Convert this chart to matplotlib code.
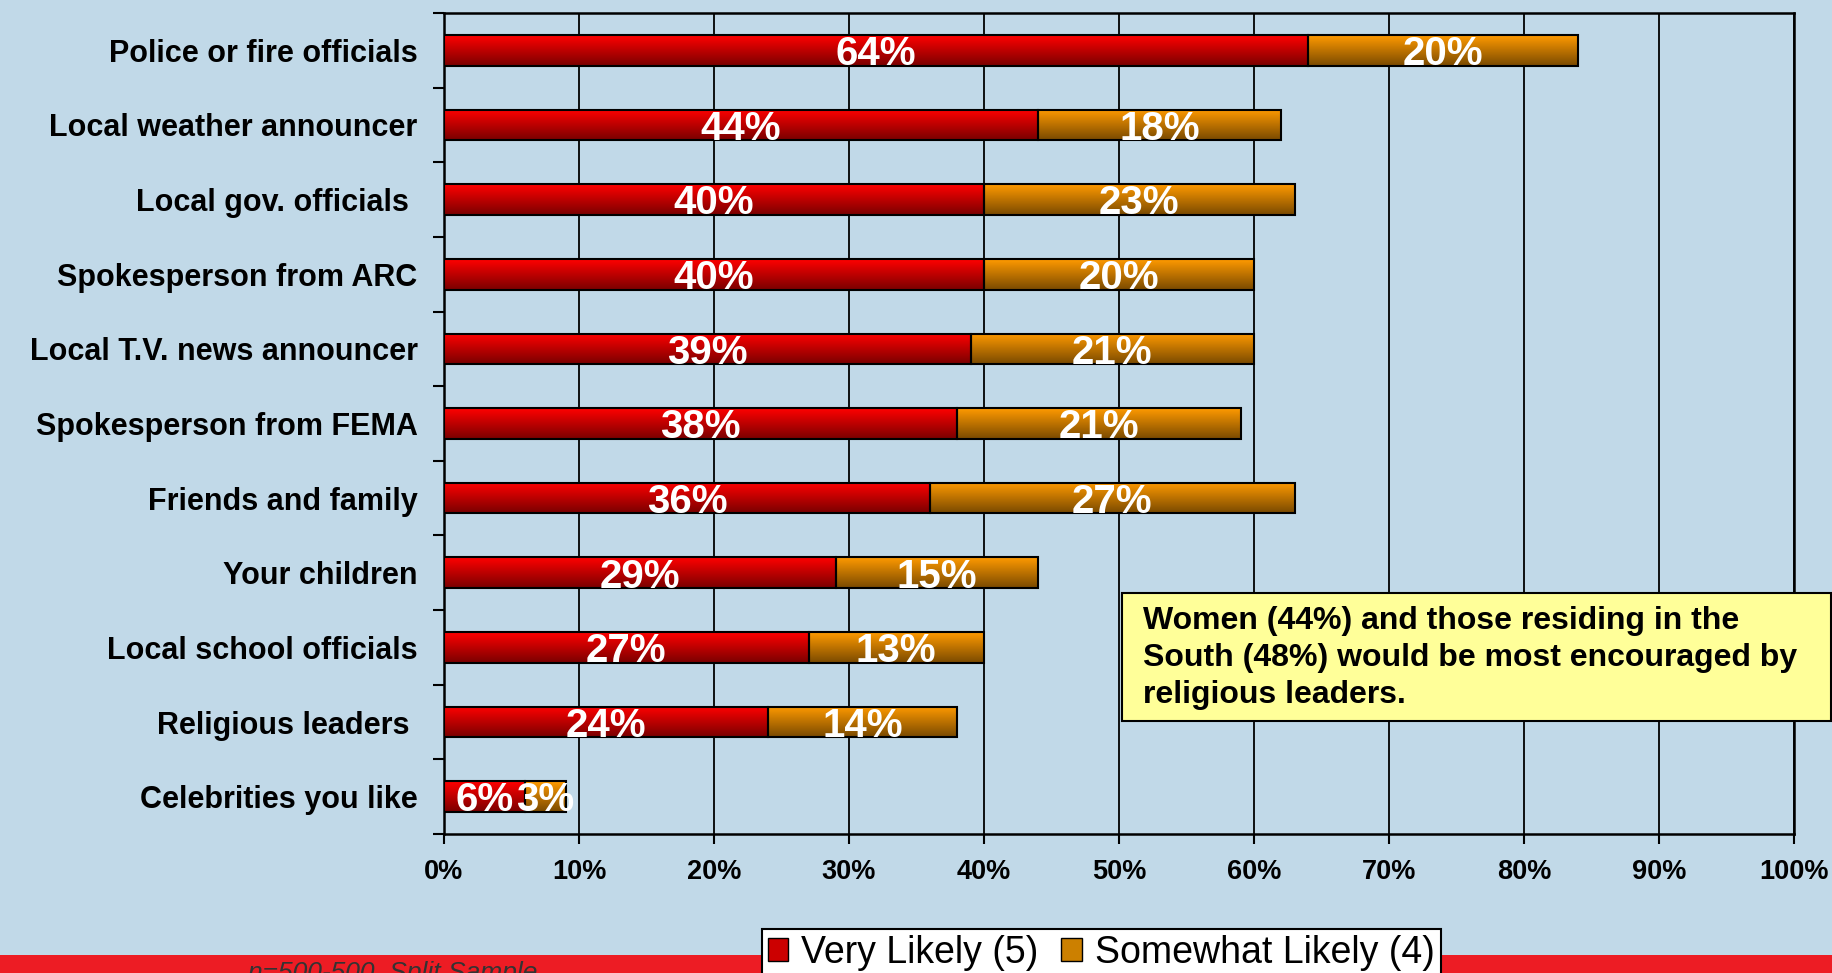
import numpy as np
import matplotlib
matplotlib.use("Agg")
import matplotlib.pyplot as plt
from matplotlib.patches import Rectangle, Patch
from matplotlib.colors import to_rgb

categories = ["Police or fire officials", "Local weather announcer", "Local gov. officials ",
              "Spokesperson from ARC", "Local T.V. news announcer", "Spokesperson from FEMA",
              "Friends and family", "Your children", "Local school officials",
              "Religious leaders ", "Celebrities you like"]
very_likely = [64, 44, 40, 40, 39, 38, 36, 29, 27, 24, 6]
somewhat_likely = [20, 18, 23, 20, 21, 21, 27, 15, 13, 14, 3]
series_names = ["Very Likely (5)", "Somewhat Likely (4)"]
xticks = [0, 10, 20, 30, 40, 50, 60, 70, 80, 90, 100]
note = "Women (44%) and those residing in the\nSouth (48%) would be most encouraged by\nreligious leaders."
footer = "n=500-500, Split Sample"

plt.rcParams['font.family'] = ['Liberation Sans', 'DejaVu Sans']

BG = '#C1D9E8'
W, H = 1833, 973
fig = plt.figure(figsize=(W / 100, H / 100), dpi=100, facecolor=BG)
ax = fig.add_axes([444 / W, 1 - 834 / H, (1794 - 444) / W, (834 - 13) / H])
ax.set_facecolor(BG)

n = len(categories)
y = np.arange(n)
bh = 0.41

grad_specs = [('#FF0000', '#7A0000'), ('#FF9A00', '#7A4A00')]

def grad_img(top, bot):
    t = np.array(to_rgb(top)); b = np.array(to_rgb(bot))
    s = np.linspace(0, 1, 64)[:, None]
    return (t * (1 - s) + b * s)[:, None, :]

lefts = [np.zeros(n), np.array(very_likely, dtype=float)]
vals = [np.array(very_likely, dtype=float), np.array(somewhat_likely, dtype=float)]
for k in range(2):
    bars = ax.barh(y, vals[k], left=lefts[k], height=bh, facecolor='none',
                   edgecolor='black', linewidth=1.5, zorder=4)
    img = grad_img(*grad_specs[k])
    for p in bars.patches:
        x0, y0 = p.get_x(), p.get_y()
        w, h = p.get_width(), p.get_height()
        im = ax.imshow(img, extent=(x0, x0 + w, y0 + h, y0), aspect='auto',
                       origin='upper', zorder=3, interpolation='bilinear')
        clip = Rectangle((x0, y0), w, h, transform=ax.transData)
        im.set_clip_path(clip)
    for yi, l, v in zip(y, lefts[k], vals[k]):
        ax.text(l + v / 2, yi + 0.05, f"{int(v)}%", ha='center', va='center',
                color='white', fontsize=29, fontweight='bold', zorder=6)

ax.set_xlim(0, 100)
ax.set_ylim(n - 0.5, -0.5)

ax.set_xticks(xticks)
ax.set_xticklabels([f"{t}%" for t in xticks], fontsize=19.5, fontweight='bold')
ax.tick_params(axis='x', direction='out', length=7, width=1.5, pad=11)
ax.grid(axis='x', color='black', linewidth=1.3, zorder=1)
ax.set_axisbelow(True)

ax.set_yticks(np.arange(n + 1) - 0.5)
ax.set_yticklabels([])
ax.tick_params(axis='y', which='major', direction='out', length=8, width=1.5)
ax.set_yticks(y, minor=True)
ax.set_yticklabels(categories, minor=True, fontsize=22, fontweight='bold')
ax.tick_params(axis='y', which='minor', length=0, pad=19)

for s in ax.spines.values():
    s.set_color('black')
    s.set_linewidth(1.8)

# footer band
fig.add_artist(Rectangle((0, 0), 1, 18 / H, transform=fig.transFigure,
                         facecolor='#ED1C24', edgecolor='none', zorder=0))
fig.text(248 / W, 1 - 980 / H, footer, fontsize=19, style='italic', color='#333333',
         va='baseline', ha='left', zorder=1)

# annotation box
fig.add_artist(Rectangle((1122 / W, 1 - 721 / H), (1831 - 1122) / W, (721 - 593) / H,
                         transform=fig.transFigure, facecolor='#FFFF99',
                         edgecolor='black', linewidth=1.5, zorder=5))
fig.text(1143 / W, 1 - 658 / H, note, fontsize=23, fontweight='bold', color='black',
         ha='left', va='center', linespacing=1.3, zorder=6)

handles = [Patch(facecolor='#CC0000', edgecolor='black'),
           Patch(facecolor='#CC8000', edgecolor='black')]
leg = fig.legend(handles, series_names, loc='upper left', bbox_to_anchor=(762 / W, 1 - 929 / H),
                 ncol=2, fontsize=27, frameon=True, fancybox=False, edgecolor='black',
                 facecolor='white', framealpha=1, handlelength=0.55, handleheight=0.55,
                 handletextpad=0.35, columnspacing=0.6, borderpad=0.15, borderaxespad=0)
leg.get_frame().set_linewidth(1.5)
leg.set_zorder(7)

fig.savefig("out.png", dpi=100, facecolor=BG)
